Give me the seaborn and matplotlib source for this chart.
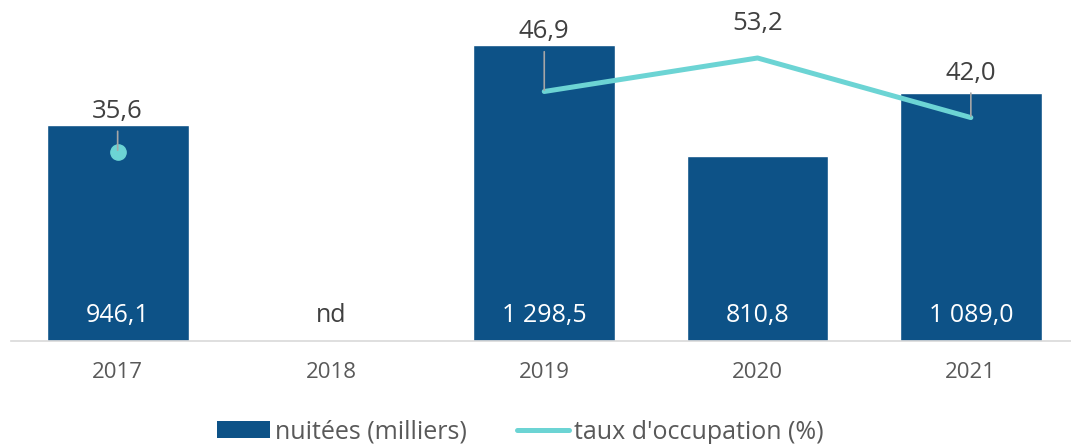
import numpy as np
import pandas as pd
import matplotlib
matplotlib.use('Agg')
import matplotlib.pyplot as plt
import seaborn as sns
from matplotlib.patches import Patch
from matplotlib.lines import Line2D

# Données
annees = ['2017', '2018', '2019', '2020', '2021']
nuitees = [946.1, np.nan, 1298.5, 810.8, 1089.0]          # milliers
taux_occupation = [35.6, np.nan, 46.9, 53.2, 42.0]        # %

bleu = '#0D5287'
turquoise = '#6CD4D4'
gris_texte = '#404040'
gris_axe = '#595959'

def fmt_fr(v):
    s = f"{v:,.1f}"
    return s.replace(',', ' ').replace('.', ',')

df = pd.DataFrame({'annee': annees, 'nuitees': nuitees, 'taux': taux_occupation})

sns.set_style('white')
plt.rcParams['font.family'] = ['Open Sans', 'DejaVu Sans']

fig = plt.figure(figsize=(10.71, 4.44), dpi=100)
ax = fig.add_axes([11 / 1071, 0.232, 5 * 213.3 / 1071, 0.768])

sns.barplot(data=df, x='annee', y='nuitees', color=bleu, width=0.665,
            saturation=1, ax=ax)
ax.set_xlim(-0.5, 4.5)
ax.set_ylim(0, 1496)

# étiquettes des barres (en bas, dans la barre)
for i, v in enumerate(nuitees):
    if np.isnan(v):
        ax.annotate('nd', (i, 0), xytext=(0, 18.5), textcoords='offset points',
                    ha='center', va='center', fontsize=18, color=gris_texte)
    else:
        ax.annotate(fmt_fr(v), (i, 0), xytext=(0, 18.5), textcoords='offset points',
                    ha='center', va='center', fontsize=18, color='white')

# axe secondaire pour le taux d'occupation
ax2 = ax.twinx()
ax2.set_ylim(0, 64.1)
ax2.plot(range(len(annees)), taux_occupation, color=turquoise, lw=3.6,
         solid_capstyle='round', solid_joinstyle='round')
# points isolés
for i, v in enumerate(taux_occupation):
    prev_nan = i == 0 or np.isnan(taux_occupation[i - 1])
    next_nan = i == len(annees) - 1 or np.isnan(taux_occupation[i + 1])
    if not np.isnan(v) and prev_nan and next_nan:
        ax2.plot(i, v, 'o', color=turquoise, markersize=11)

# étiquettes de la courbe (décalage en points, trait de rappel)
decalages = [29, 0, 43, 25, 32]
rappel = [True, False, True, False, True]
for i, v in enumerate(taux_occupation):
    if np.isnan(v):
        continue
    props = dict(arrowstyle='-', color='#A6A6A6', lw=1.2, shrinkA=3, shrinkB=1) if rappel[i] else None
    ax2.annotate(fmt_fr(v), (i, v), xytext=(0, decalages[i]), textcoords='offset points',
                 ha='center', va='center', fontsize=18.5, color=gris_texte,
                 arrowprops=props)

for a in (ax, ax2):
    for s in ('top', 'right', 'left'):
        a.spines[s].set_visible(False)
    a.set_yticks([])
    a.set_ylabel('')
ax2.spines['bottom'].set_visible(False)
ax.spines['bottom'].set_color('#D9D9D9')
ax.spines['bottom'].set_linewidth(1.2)
ax.set_xlabel('')
ax.tick_params(axis='x', length=0, pad=15, labelsize=16, labelcolor=gris_axe)

handles = [Patch(facecolor=bleu, edgecolor='none'),
           Line2D([0], [0], color=turquoise, lw=3.6, solid_capstyle='round')]
fig.legend(handles, ['nuitées (milliers)', "taux d'occupation (%)"],
           loc='center', bbox_to_anchor=(0.486, 0.027), ncol=2, frameon=False,
           fontsize=18, labelcolor=gris_axe, handlelength=2.1, handleheight=0.65,
           handletextpad=0.2, columnspacing=2.0)

fig.savefig('out.png', dpi=100)
